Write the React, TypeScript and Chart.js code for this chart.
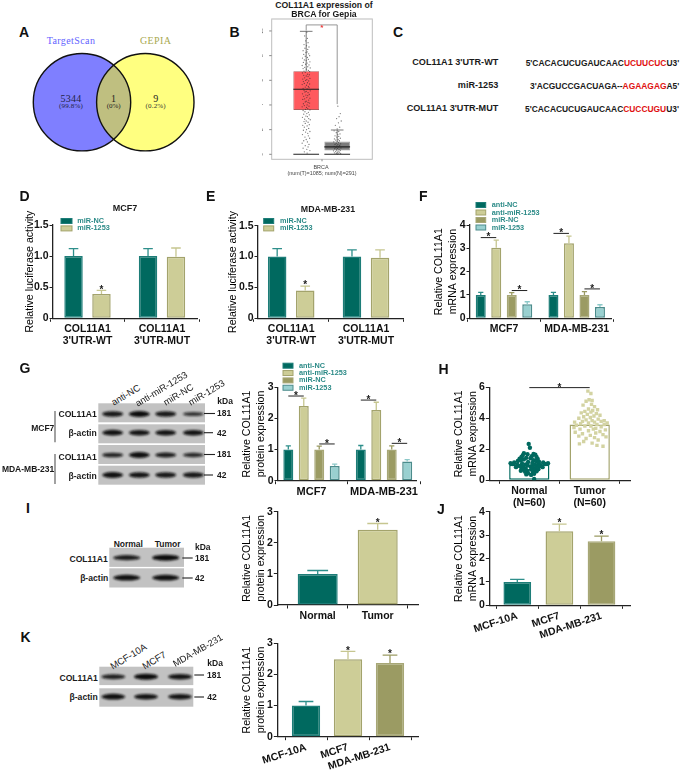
import React, { useEffect, useRef } from "react";
import { Chart, registerables } from "chart.js";

Chart.register(...registerables);

const FONT = "'Liberation Sans', Arial, sans-serif";
const TEAL = { bg: "#00695f", border: "#1d7d78", err: "#2e8f8b" };
const TAN = { bg: "#cdcd97", border: "#a3a36c", err: "#c6c690" };
const OLIVE = { bg: "#9b9b63", border: "#a7a776", err: "#9b9b63" };
const AQUA = { bg: "#99d0d0", border: "#4c8c8c", err: "#8cc8c8" };

// ---------- Data ----------
const utrLabels = [["COL11A1", "3'UTR-WT"], ["COL11A1", "3'UTR-MUT"]];
const dNC = [1.0, 1.0];
const dNCErr = [1.12, 1.12];
const dMiR = [0.39, 0.99];
const dMiRErr = [0.45, 1.13];
const eNC = [1.0, 1.0];
const eNCErr = [1.13, 1.11];
const eMiR = [0.45, 0.98];
const eMiRErr = [0.52, 1.11];

const cellLabels = ["MCF7", "MDA-MB-231"];
const fAntiNC = [1.0, 1.0];
const fAntiNCErr = [1.11, 1.11];
const fAntiMiR = [3.02, 3.22];
const fAntiMiRErr = [3.35, 3.52];
const fMiRNC = [1.0, 1.0];
const fMiRNCErr = [1.1, 1.14];
const fMiR = [0.6, 0.48];
const fMiRErr = [0.71, 0.58];

const gAntiNC = [1.0, 1.0];
const gAntiNCErr = [1.12, 1.13];
const gAntiMiR = [2.4, 2.27];
const gAntiMiRErr = [2.65, 2.52];
const gMiRNC = [1.0, 1.0];
const gMiRNCErr = [1.11, 1.12];
const gMiR = [0.47, 0.62];
const gMiRErr = [0.53, 0.68];

const hLabels = [["Normal", "(N=60)"], ["Tumor", "(N=60)"]];
const hMeans = [1.0, 3.6];
const hNormalY = [2.35,2.1,1.75,1.7,1.68,1.65,1.6,1.55,1.5,1.5,1.45,1.42,1.4,1.38,1.35,1.3,1.3,1.25,1.25,1.2,1.18,1.15,1.15,1.12,1.1,1.1,1.08,1.08,1.05,1.05,1.02,1.0,1.0,0.98,0.95,0.95,0.92,0.9,0.9,0.88,0.85,0.85,0.82,0.8,0.78,0.75,0.72,0.7,0.7,0.65,0.62,0.6,0.58,0.55,0.5,0.45,0.42,0.38,0.35,0.08];
const hNormalX = [-.01,.01,-.09,.07,-.03,.1,-.11,.04,-.13,.12,-.05,.02,-.16,.14,-.09,.07,-.14,.11,-.19,.16,-.02,-.25,.23,.05,-.31,.31,-.12,.15,-.27,.26,-.06,.09,-.2,.19,-.03,.13,-.16,.17,.02,-.1,.22,-.22,.06,-.13,.11,-.06,.15,-.1,.03,.09,-.14,-.03,.12,-.07,.06,-.02,.08,-.05,.03,.08];
const hTumorY = [5.75,5.6,5.2,5.15,5.1,4.9,4.85,4.75,4.6,4.55,4.5,4.45,4.4,4.35,4.3,4.25,4.2,4.15,4.1,4.05,4.0,3.95,3.9,3.85,3.85,3.8,3.8,3.75,3.75,3.7,3.7,3.65,3.6,3.6,3.55,3.5,3.5,3.45,3.4,3.35,3.3,3.3,3.25,3.2,3.15,3.1,3.05,3.0,2.95,2.9,2.85,2.8,2.75,2.7,2.6,2.5,2.4,2.35,2.25,2.2];
const hTumorX = [-.03,.02,-.01,.04,-.06,.03,-.11,.08,-.02,.13,.05,-.08,.02,-.14,.11,-.04,.17,.07,-.1,.01,-.18,.14,-.06,.04,.24,-.12,.19,-.25,.08,-.02,.29,-.15,.12,.24,-.22,.02,-.08,.19,-.26,.1,-.16,.06,.26,-.02,.17,-.24,.1,-.12,.22,.01,-.18,.27,.08,-.06,.14,-.1,.04,-.17,.12,.22];

const iLabels = ["Normal", "Tumor"];
const iValues = [1.0, 2.42];
const iErr = [1.11, 2.62];

const lineLabels = ["MCF-10A", "MCF7", "MDA-MB-231"];
const jValues = [1.0, 3.16, 2.74];
const jErr = [1.11, 3.47, 2.96];
const kValues = [1.0, 2.49, 2.37];
const kErr = [1.13, 2.74, 2.62];

const bGroups = ["Tumor", "Normal"];
const bBoxes = [[3.6, 6.73], [0.3, 1.03]];
const bMedians = [5.27, 0.6];
const bWhiskerTop = [9.97, 1.97];
const bTumorDots = [[.02,9.9],[-.05,9.6],[.04,9.4],[-.02,9.2],[.06,9.05],[-.07,8.9],[.01,8.8],[.09,8.7],[-.04,8.6],[.05,8.5],[-.1,8.4],[.03,8.3],[-.01,8.25],[.08,8.15],[-.08,8.1],[.11,8.0],[-.03,7.95],[.04,7.85],[-.12,7.8],[.07,7.7],[-.06,7.65],[.0,7.6],[.12,7.5],[-.09,7.45],[.03,7.4],[-.02,7.3],[.09,7.25],[-.13,7.2],[.05,7.1],[-.05,7.05],[.13,7.0],[-.1,6.95],[.01,6.9],[.07,6.8],[-.07,6.75],[.11,6.7],[-.03,6.65],[-.12,6.6],[.04,6.5],[.1,6.45],[-.08,6.4],[.0,6.35],[.06,6.3],[-.05,6.2],[.12,6.15],[-.11,6.1],[.02,6.05],[-.02,6.0],[.08,5.95],[-.09,5.9],[.04,5.8],[-.06,5.75],[.11,5.7],[-.13,5.65],[.01,5.6],[.07,5.5],[-.03,5.45],[.09,5.4],[-.1,5.35],[.03,5.3],[-.07,5.2],[.13,5.15],[.0,5.1],[-.04,5.05],[.06,5.0],[-.12,4.9],[.1,4.85],[-.01,4.8],[.05,4.75],[-.08,4.7],[.02,4.6],[.12,4.55],[-.05,4.5],[-.11,4.45],[.08,4.4],[.0,4.3],[-.03,4.25],[.06,4.2],[.11,4.15],[-.09,4.1],[.03,4.0],[-.06,3.95],[.09,3.9],[-.13,3.85],[.01,3.8],[.05,3.7],[-.02,3.65],[.12,3.6],[-.1,3.55],[-.04,3.45],[.07,3.4],[.02,3.3],[-.08,3.25],[.1,3.2],[-.01,3.1],[.04,3.05],[-.12,3.0],[.08,2.9],[-.05,2.85],[.13,2.8],[.0,2.7],[-.07,2.65],[.06,2.6],[-.03,2.5],[.1,2.4],[-.11,2.35],[.03,2.3],[-.06,2.2],[.08,2.1],[.01,2.0],[-.09,1.95],[.12,1.85],[-.02,1.8],[.05,1.7],[-.12,1.6],[.07,1.5],[-.04,1.4],[.11,1.3],[.0,1.2],[-.08,1.1],[.04,1.0],[-.13,.9],[.09,.8],[-.03,.7],[.06,.6],[-.1,.5],[.02,.4],[.12,.3],[-.06,.2],[.03,.1]];
const bNormalDots = [[.02,3.9],[.1,3.3],[.06,3.05],[-.02,2.9],[.13,2.7],[.04,2.55],[-.06,2.35],[.08,2.2],[.0,2.05],[-.1,1.9],[.05,1.85],[-.03,1.75],[.09,1.65],[.02,1.6],[-.07,1.5],[.05,1.45],[-.01,1.4],[.1,1.3],[-.09,1.25],[.03,1.2],[-.05,1.15],[.07,1.1],[.0,1.05],[-.11,1.0],[.04,.95],[-.03,.9],[.11,.85],[-.07,.8],[.02,.78],[.08,.72],[-.01,.68],[-.1,.65],[.05,.6],[-.04,.55],[.12,.52],[.01,.48],[-.08,.45],[.06,.4],[-.02,.35],[.1,.32],[-.12,.28],[.03,.25],[-.05,.22],[.08,.18],[.0,.15],[-.09,.12],[.05,.1],[-.03,.07],[.11,.05],[.01,.03]];

const blotG = [[.85, 1, .85, .55], [.92, .9, .9, .9], [.7, .95, .8, .65], [.95, .9, .85, .85]];
const blotI = [[.8, 1], [.95, .95]];
const blotK = [[.75, 1, .9], [.95, .9, .9]];

// ---------- Chart helpers ----------
type Box = { left: number; right: number; top: number; bottom: number };
type Panel = {
  plot: Box; titleX: number; yMax: number; yStep: number; title: string[];
  labels: any[]; centers: [number, number]; datasets: any[]; rotate?: number;
  legend?: { x: number; y: number; dy: number; w: number; textX: number };
  stars?: number[][]; brackets?: number[][]; font?: number; hiddenX?: boolean;
};

function series(label: string, data: number[], errTop: number[] | null, st: any, cat: number, bar: number) {
  return {
    type: "bar", label, data, errTop,
    backgroundColor: Array.isArray(st) ? st.map((s: any) => s.bg) : st.bg,
    borderColor: Array.isArray(st) ? st.map((s: any) => s.border) : st.border,
    errColor: Array.isArray(st) ? st.map((s: any) => s.err) : st.err,
    legendBg: Array.isArray(st) ? st[0].bg : st.bg,
    legendBorder: Array.isArray(st) ? st[0].border : st.border,
    borderWidth: 1.5, borderSkipped: false, categoryPercentage: cat, barPercentage: bar, order: 2,
  };
}

function placeX(chart: any, c0: number, c1: number, n: number) {
  const w = (c1 - c0) / (n - 1);
  const start = c0 - w / 2;
  for (const id of Object.keys(chart.scales)) {
    const s = chart.scales[id];
    if (s.isHorizontal()) {
      s._startPixel = start;
      s._endPixel = start + w * n;
      s._length = w * n;
    }
  }
}

function canvasBox(p: Panel) {
  const lh = 14;
  const left = Math.round(p.titleX - lh / 2);
  const top = Math.round(p.plot.top - 40);
  const right = Math.round(p.plot.right + 6);
  const bottom = Math.round(p.plot.bottom + 46);
  return { left, top, width: right - left, height: bottom - top };
}

function buildPanel(canvas: HTMLCanvasElement, p: Panel) {
  const cb = canvasBox(p);
  canvas.width = cb.width;
  canvas.height = cb.height;
  const yw = p.plot.left - cb.left;
  const xh = cb.top + cb.height - p.plot.bottom;
  const size = p.font || 10.5;
  const decor = {
    id: "decor",
    afterLayout(chart: any) {
      placeX(chart, p.centers[0] - cb.left, p.centers[1] - cb.left, p.labels.length);
    },
    afterDatasetsDraw(chart: any) {
      const ctx = chart.ctx;
      const y = chart.scales.y;
      const star = (cx: number, cy: number) => {
        ctx.fillStyle = "#222";
        ctx.font = `bold 10px ${FONT}`;
        ctx.textAlign = "center";
        ctx.textBaseline = "alphabetic";
        ctx.fillText("*", cx, cy + 5.9);
      };
      chart.data.datasets.forEach((ds: any, i: number) => {
        if (!ds.errTop) return;
        chart.getDatasetMeta(i).data.forEach((bar: any, j: number) => {
          const top = y.getPixelForValue(ds.errTop[j]);
          const base = y.getPixelForValue(ds.data[j]);
          const col = Array.isArray(ds.errColor) ? ds.errColor[j] : ds.errColor;
          const hw = bar.width * 0.26;
          ctx.strokeStyle = col;
          ctx.lineWidth = 1.3;
          ctx.beginPath();
          ctx.moveTo(bar.x, base);
          ctx.lineTo(bar.x, top);
          ctx.moveTo(bar.x - hw, top);
          ctx.lineTo(bar.x + hw, top);
          ctx.stroke();
        });
      });
      (p.stars || []).forEach(([ds, cat]) => {
        const d = chart.data.datasets[ds];
        const bar: any = chart.getDatasetMeta(ds).data[cat];
        star(bar.x, y.getPixelForValue(d.errTop[cat]) - 3.7);
      });
      (p.brackets || []).forEach(([da, ca, db, cb2, v]) => {
        const a: any = chart.getDatasetMeta(da).data[ca];
        const b: any = chart.getDatasetMeta(db).data[cb2];
        const py = y.getPixelForValue(v);
        ctx.strokeStyle = "#222";
        ctx.lineWidth = 1;
        ctx.beginPath();
        ctx.moveTo(a.x, py);
        ctx.lineTo(b.x, py);
        ctx.stroke();
        star((a.x + b.x) / 2, py - 3);
      });
      if (p.legend) {
        const lg = p.legend;
        chart.data.datasets.forEach((ds: any, i: number) => {
          const yy = lg.y - cb.top + i * lg.dy;
          const xx = lg.x - cb.left;
          ctx.fillStyle = ds.legendBg;
          ctx.strokeStyle = ds.legendBorder;
          ctx.lineWidth = 1;
          ctx.fillRect(xx, yy - 2.5, lg.w, 5);
          ctx.strokeRect(xx, yy - 2.5, lg.w, 5);
          ctx.fillStyle = "#2b8a87";
          ctx.font = `bold 7.3px ${FONT}`;
          ctx.textAlign = "left";
          ctx.textBaseline = "middle";
          ctx.fillText(ds.label, lg.textX - cb.left, yy);
        });
      }
    },
  };
  const scales: any = {
    x: {
      type: "category", offset: true,
      afterFit: (s: any) => { s.height = xh; },
      grid: { display: true, drawOnChartArea: false, drawTicks: true, tickLength: 3.5, color: "#222", tickWidth: 1 },
      border: { color: "#222", width: 1.3 },
      ticks: {
        color: "#111", autoSkip: false, padding: 1,
        minRotation: p.rotate || 0, maxRotation: p.rotate || 0,
        font: { family: FONT, size, weight: "bold", lineHeight: 1.17 },
      },
    },
    y: {
      type: "linear", min: 0, max: p.yMax,
      afterFit: (s: any) => { s.width = yw; },
      grid: { display: true, drawOnChartArea: false, drawTicks: true, tickLength: 3.5, color: "#222", tickWidth: 1 },
      border: { color: "#222", width: 1.3 },
      ticks: { stepSize: p.yStep, color: "#111", padding: 1, font: { family: FONT, size: 10.5, weight: "bold" } },
      title: { display: true, text: p.title, color: "#000", padding: 0, font: { family: FONT, size: 10.6, lineHeight: 14 / 10.6 } },
    },
  };
  if (p.hiddenX) scales.xs = { type: "linear", display: false, offset: false, min: -0.5, max: 1.5, position: "bottom" };
  return new Chart(canvas, {
    type: "bar",
    data: { labels: p.labels, datasets: p.datasets },
    options: {
      responsive: false, animation: false,
      layout: { autoPadding: false, padding: { left: 0, top: p.plot.top - cb.top, right: cb.left + cb.width - p.plot.right, bottom: 0 } },
      plugins: { legend: { display: false }, tooltip: { enabled: false } },
      scales,
    } as any,
    plugins: [decor],
  } as any);
}

const Legend2 = (x: number, textX: number, w: number) => ({ x, y: 221, dy: 7.4, w, textX });

const panels: Panel[] = [
  {
    plot: { left: 53, right: 197, top: 225, bottom: 318.3 }, titleX: 30, yMax: 1.5, yStep: 0.5, title: ["Relative luciferase activity"],
    labels: utrLabels, centers: [87.5, 162],
    datasets: [series("miR-NC", dNC, dNCErr, TEAL, 0.75, 0.66), series("miR-1253", dMiR, dMiRErr, TAN, 0.75, 0.66)],
    legend: Legend2(61, 77.3, 11), stars: [[1, 0]],
  },
  {
    plot: { left: 258, right: 403, top: 225.7, bottom: 318.3 }, titleX: 233, yMax: 1.5, yStep: 0.5, title: ["Relative luciferase activity"],
    labels: utrLabels, centers: [291.2, 366],
    datasets: [series("miR-NC", eNC, eNCErr, TEAL, 0.75, 0.66), series("miR-1253", eMiR, eMiRErr, TAN, 0.75, 0.66)],
    legend: Legend2(263.7, 280, 10), stars: [[1, 0]],
  },
  {
    plot: { left: 470, right: 611, top: 225, bottom: 318.3 }, titleX: 439, yMax: 4, yStep: 1, title: ["Relative COL11A1", "mRNA expression"],
    labels: cellLabels, centers: [504, 576.7],
    datasets: [
      series("anti-NC", fAntiNC, fAntiNCErr, TEAL, 0.853, 0.645), series("anti-miR-1253", fAntiMiR, fAntiMiRErr, TAN, 0.853, 0.645),
      series("miR-NC", fMiRNC, fMiRNCErr, OLIVE, 0.853, 0.645), series("miR-1253", fMiR, fMiRErr, AQUA, 0.853, 0.645),
    ],
    legend: { x: 476, y: 205, dy: 7.5, w: 9.7, textX: 491.7 },
    brackets: [[0, 0, 1, 0, 3.46], [2, 0, 3, 0, 1.19], [0, 1, 1, 1, 3.64], [2, 1, 3, 1, 1.26]],
  },
  {
    plot: { left: 278, right: 416.7, top: 387.3, bottom: 480.7 }, titleX: 247, yMax: 3, yStep: 1, title: ["Relative COL11A1", "protein expression"],
    labels: cellLabels, centers: [311.5, 384], font: 11,
    datasets: [
      series("anti-NC", gAntiNC, gAntiNCErr, TEAL, 0.853, 0.645), series("anti-miR-1253", gAntiMiR, gAntiMiRErr, TAN, 0.853, 0.645),
      series("miR-NC", gMiRNC, gMiRNCErr, OLIVE, 0.853, 0.645), series("miR-1253", gMiR, gMiRErr, AQUA, 0.853, 0.645),
    ],
    legend: { x: 283, y: 365.7, dy: 7.35, w: 10, textX: 299 },
    brackets: [[0, 0, 1, 0, 2.72], [2, 0, 3, 0, 1.18], [0, 1, 1, 1, 2.59], [2, 1, 3, 1, 1.2]],
  },
  {
    plot: { left: 489.3, right: 630, top: 387.3, bottom: 480.3 }, titleX: 459, yMax: 6, yStep: 2, title: ["Relative COL11A1", "mRNA expression"],
    labels: hLabels, centers: [529.3, 589.7], hiddenX: true,
    datasets: [
      { type: "scatter", xAxisID: "xs", order: 0, pointStyle: "circle", pointRadius: 2.2, pointBackgroundColor: TEAL.bg, pointBorderWidth: 0, data: hNormalX.map((x, i) => ({ x, y: hNormalY[i] })) },
      { type: "scatter", xAxisID: "xs", order: 0, pointStyle: "rect", pointRadius: 2.4, pointBackgroundColor: "#d3d3a2", pointBorderWidth: 0, data: hTumorX.map((x, i) => ({ x: 1 + x, y: hTumorY[i] })) },
      { ...series("mean", hMeans, null, [{ bg: "#ffffff", border: TEAL.bg, err: TEAL.err }, { bg: "#ffffff", border: TAN.border, err: TAN.err }], 1, 0.667), grouped: false },
    ],
    brackets: [[2, 0, 2, 1, 5.98]],
  },
  {
    plot: { left: 277.3, right: 418.3, top: 511.7, bottom: 605 }, titleX: 247, yMax: 3, yStep: 1, title: ["Relative COL11A1", "protein expression"],
    labels: iLabels, centers: [317.7, 377.7], font: 10.5,
    datasets: [series("level", iValues, iErr, [TEAL, TAN], 0.667, 1)],
    stars: [[0, 1]],
  },
  {
    plot: { left: 489.3, right: 630, top: 511.7, bottom: 605.3 }, titleX: 459, yMax: 4, yStep: 1, title: ["Relative COL11A1", "mRNA expression"],
    labels: lineLabels, centers: [517.3, 601.5], rotate: 18,
    datasets: [series("level", jValues, jErr, [TEAL, TAN, OLIVE], 0.658, 1)],
    stars: [[0, 1], [0, 2]],
  },
  {
    plot: { left: 277.3, right: 418.3, top: 643.3, bottom: 736.7 }, titleX: 247, yMax: 3, yStep: 1, title: ["Relative COL11A1", "protein expression"],
    labels: lineLabels, centers: [306, 390], rotate: 18,
    datasets: [series("level", kValues, kErr, [TEAL, TAN, OLIVE], 0.674, 1)],
    stars: [[0, 1], [0, 2]],
  },
];

const bBox = { left: 262, top: 14, width: 116, height: 150 };
const bPlot: Box = { left: 271.7, right: 372.3, top: 19, bottom: 159.3 };

function buildBoxplot(canvas: HTMLCanvasElement) {
  canvas.width = bBox.width;
  canvas.height = bBox.height;
  const decor = {
    id: "decorB",
    afterLayout(chart: any) {
      placeX(chart, 306.2 - bBox.left, 337.2 - bBox.left, 2);
    },
    beforeDatasetsDraw(chart: any) {
      const { ctx, chartArea: a } = chart;
      ctx.strokeStyle = "#bdbdbd";
      ctx.lineWidth = 1;
      ctx.strokeRect(a.left, a.top, a.right - a.left, a.bottom - a.top);
      ctx.fillStyle = "#dcdcdc";
      ctx.fillRect(a.left, a.top - 1, a.right - a.left, 1.4);
      const y = chart.scales.y;
      ctx.fillStyle = "#555";
      ctx.font = `5.2px ${FONT}`;
      y.ticks.forEach((t: any) => {
        const py = y.getPixelForValue(t.value);
        ctx.strokeStyle = "#888";
        ctx.beginPath();
        ctx.moveTo(a.left, py);
        ctx.lineTo(a.left - 2.5, py);
        ctx.stroke();
        ctx.save();
        ctx.translate(a.left - 10, py);
        ctx.rotate(-Math.PI / 2);
        ctx.textAlign = "center";
        ctx.textBaseline = "middle";
        ctx.fillText(String(t.value), 0, 0);
        ctx.restore();
      });
      ctx.beginPath();
      ctx.strokeStyle = "#888";
      const mid = (a.left + a.right) / 2;
      ctx.moveTo(mid, a.bottom);
      ctx.lineTo(mid, a.bottom + 2);
      ctx.stroke();
    },
    afterDatasetsDraw(chart: any) {
      const { ctx } = chart;
      const y = chart.scales.y;
      const boxes = chart.getDatasetMeta(2).data;
      boxes.forEach((bar: any, i: number) => {
        const hw = bar.width / 2;
        const zero = y.getPixelForValue(0);
        ctx.strokeStyle = "#555";
        ctx.lineWidth = 0.8;
        ctx.beginPath();
        ctx.moveTo(bar.x, y.getPixelForValue(bWhiskerTop[i]));
        ctx.lineTo(bar.x, y.getPixelForValue(bBoxes[i][1]));
        ctx.moveTo(bar.x - 6.3, y.getPixelForValue(bWhiskerTop[i]));
        ctx.lineTo(bar.x + 6.3, y.getPixelForValue(bWhiskerTop[i]));
        ctx.stroke();
        ctx.strokeStyle = "#222";
        ctx.lineWidth = 1.1;
        ctx.beginPath();
        ctx.moveTo(bar.x - hw, y.getPixelForValue(bMedians[i]));
        ctx.lineTo(bar.x + hw, y.getPixelForValue(bMedians[i]));
        ctx.moveTo(bar.x - hw, zero);
        ctx.lineTo(bar.x + hw, zero);
        ctx.stroke();
      });
      const [a, b] = boxes as any[];
      const top = y.getPixelForValue(10.49);
      ctx.strokeStyle = "#8a8a8a";
      ctx.lineWidth = 0.9;
      ctx.beginPath();
      ctx.moveTo(a.x, y.getPixelForValue(10.03));
      ctx.lineTo(a.x, top);
      ctx.lineTo(b.x, top);
      ctx.lineTo(b.x, y.getPixelForValue(4.07));
      ctx.stroke();
      ctx.fillStyle = "#ee3333";
      ctx.font = `bold 8px ${FONT}`;
      ctx.textAlign = "center";
      ctx.textBaseline = "alphabetic";
      ctx.fillText("*", (a.x + b.x) / 2, top + 4.7);
    },
  };
  const dot = (pts: number[][], offset: number) => pts.map(([x, y]) => ({ x: offset + x, y }));
  return new Chart(canvas, {
    type: "bar",
    data: {
      labels: bGroups,
      datasets: [
        { type: "scatter", xAxisID: "xs", order: 0, pointRadius: 0.65, pointBorderWidth: 0, pointBackgroundColor: "rgba(40,40,40,0.62)", data: dot(bTumorDots, 0) },
        { type: "scatter", xAxisID: "xs", order: 0, pointRadius: 0.65, pointBorderWidth: 0, pointBackgroundColor: "rgba(40,40,40,0.62)", data: dot(bNormalDots, 1) },
        { type: "bar", order: 2, grouped: false, data: bBoxes, backgroundColor: ["#ff5a5e", "#7b7b7b"], borderColor: ["#b05a5a", "#a0a0a0"], borderWidth: 0.8, borderSkipped: false, categoryPercentage: 1, barPercentage: 0.83 },
      ],
    },
    options: {
      responsive: false, animation: false,
      layout: { autoPadding: false, padding: { left: 0, top: bPlot.top - bBox.top, right: bBox.left + bBox.width - bPlot.right, bottom: 0 } },
      plugins: { legend: { display: false }, tooltip: { enabled: false } },
      scales: {
        x: { type: "category", offset: true, grid: { display: false }, border: { display: false }, ticks: { display: false }, afterFit: (s: any) => { s.height = bBox.top + bBox.height - bPlot.bottom; } },
        xs: { type: "linear", display: false, offset: false, min: -0.5, max: 1.5, position: "bottom" },
        y: { type: "linear", min: -0.405, max: 10.97, grid: { display: false }, border: { display: false }, ticks: { display: false, stepSize: 2, includeBounds: false }, afterFit: (s: any) => { s.width = bPlot.left - bBox.left; } },
      },
    } as any,
    plugins: [decor],
  } as any);
}

// ---------- Static parts ----------
function T({ x, y, a = "l", s = 8.5, b = false, c = "#1a1a1a", r = 0, f = FONT, ls = 0, children }: any) {
  const tx = a === "c" ? "-50%" : a === "r" ? "-100%" : "0";
  return (
    <div style={{
      position: "absolute", left: x, top: y, whiteSpace: "nowrap", lineHeight: 1, fontFamily: f, fontSize: s,
      fontWeight: b ? "bold" : "normal", color: c, letterSpacing: ls,
      transform: `translate(${tx},-50%)` + (r ? ` rotate(${r}deg)` : ""), transformOrigin: "0 50%",
    }}>{children}</div>
  );
}

function Blot({ x, w, rows, lanes, bandY, rowTops, rowH, rx = 10.5 }: any) {
  return (
    <g>
      {rows.map((row: number[], i: number) => (
        <g key={i}>
          <rect x={x} y={rowTops[i]} width={w} height={rowH} fill="#c2c2c2" />
          {row.map((v: number, j: number) => (
            <ellipse key={j} cx={lanes[j]} cy={bandY[i]} rx={rx} ry={0.9 + 2.1 * v} fill="#0d0d0d" opacity={0.55 + 0.45 * v} filter="url(#blur)" />
          ))}
        </g>
      ))}
    </g>
  );
}

const L = ({ x1, y1, x2, y2, w = 1.1, c = "#222" }: any) => <line x1={x1} y1={y1} x2={x2} y2={y2} stroke={c} strokeWidth={w} />;

const SEQ = 8.42;
const HEAD = 9.1;
const serif = "'Liberation Serif', serif";

export default function App() {
  const refs = useRef<(HTMLCanvasElement | null)[]>([]);
  const bRef = useRef<HTMLCanvasElement | null>(null);
  useEffect(() => {
    const charts = panels.map((p, i) => buildPanel(refs.current[i] as HTMLCanvasElement, p));
    charts.push(buildBoxplot(bRef.current as HTMLCanvasElement));
    return () => charts.forEach((c) => c.destroy());
  }, []);
  return (
    <div style={{ position: "absolute", left: 0, top: 0, width: 685, height: 773, overflow: "hidden", background: "#fff", fontFamily: FONT }}>
      <svg width={685} height={773} style={{ position: "absolute", left: 0, top: 0 }}>
        <defs>
          <filter id="blur" x="-30%" y="-100%" width="160%" height="300%"><feGaussianBlur stdDeviation="0.9" /></filter>
          <clipPath id="c1"><circle cx={82} cy={102.2} r={48.7} /></clipPath>
        </defs>
        <circle cx={82} cy={102.2} r={48.7} fill="#7f7fff" />
        <circle cx={145.3} cy={102.2} r={48.7} fill="#ffff80" />
        <circle cx={145.3} cy={102.2} r={48.7} fill="#bfbf80" clipPath="url(#c1)" />
        <circle cx={82} cy={102.2} r={48.7} fill="none" stroke="#111" strokeWidth={1.4} />
        <circle cx={145.3} cy={102.2} r={48.7} fill="none" stroke="#111" strokeWidth={1.4} />

        <Blot x={98.3} w={106.7} rows={blotG} lanes={[112.7, 139.3, 165.7, 193.3]} bandY={[414, 432.7, 455, 475]} rowTops={[403.3, 424.3, 445, 465.7]} rowH={19} />
        <Blot x={109.3} w={74.7} rows={blotI} lanes={[126.7, 165.7]} bandY={[557.7, 577.7]} rowTops={[547.7, 568.3]} rowH={19.2} rx={13.5} />
        <Blot x={99.3} w={94} rows={blotK} lanes={[113.3, 146, 180]} bandY={[676.7, 696.7]} rowTops={[666.7, 688.3]} rowH={18.4} rx={12} />

        <L x1={55} y1={411} x2={55} y2={442.3} c="#555" />
        <L x1={55} y1={454} x2={55} y2={484} c="#555" />
        <L x1={204} y1={413.5} x2={215} y2={413.5} />
        <L x1={204} y1={432.7} x2={213} y2={432.7} />
        <L x1={204} y1={454.5} x2={215} y2={454.5} />
        <L x1={204} y1={475} x2={213} y2={475} />
        <L x1={182.3} y1={558} x2={192.7} y2={558} />
        <L x1={182.3} y1={578} x2={192.7} y2={578} />
        <L x1={194.3} y1={675} x2={204} y2={675} />
        <L x1={194.3} y1={697} x2={204} y2={697} />
      </svg>

      {panels.map((p, i) => {
        const cb = canvasBox(p);
        return <canvas key={i} ref={(el) => { refs.current[i] = el; }} style={{ position: "absolute", left: cb.left, top: cb.top, width: cb.width, height: cb.height }} />;
      })}
      <canvas ref={bRef} style={{ position: "absolute", left: bBox.left, top: bBox.top, width: bBox.width, height: bBox.height }} />

      {[["A", 19, 32], ["B", 229.5, 32], ["C", 393, 32], ["D", 19.5, 196], ["E", 206, 196], ["F", 419, 196], ["G", 19.5, 367.7], ["H", 438.5, 369], ["I", 26, 508], ["J", 437, 509], ["K", 20.5, 636.7]].map(([l, x, y]: any) => (
        <T key={l} x={x} y={y} s={14} b c="#111">{l}</T>
      ))}

      <T x={71} y={41} a="c" s={10} f={serif} ls={0.4} c="#6464ff">TargetScan</T>
      <T x={155.7} y={41} a="c" s={10} f={serif} ls={0.4} c="#a9a950">GEPIA</T>
      <T x={71} y={98.7} a="c" s={10} f={serif} ls={0.3} c="#222244">5344</T>
      <T x={71} y={106.3} a="c" s={7} f={serif} ls={0.2} c="#222244">(99.8%)</T>
      <T x={113.5} y={98.7} a="c" s={10} f={serif} c="#222">1</T>
      <T x={113.7} y={106.3} a="c" s={7} f={serif} c="#222">(0%)</T>
      <T x={155.7} y={98.7} a="c" s={10} f={serif} c="#222">9</T>
      <T x={155.7} y={106.3} a="c" s={7} f={serif} ls={0.2} c="#333">(0.2%)</T>

      <T x={324} y={4.5} a="c" s={8.7} b>COL11A1 expression of</T>
      <T x={324} y={14.3} a="c" s={8.7} b>BRCA for Gepia</T>
      <T x={321} y={168} a="c" s={5.4} c="#444">BRCA</T>
      <T x={322} y={174} a="c" s={5.4} c="#444">(num(T)=1085; num(N)=291)</T>

      <T x={498.3} y={62.7} a="r" s={HEAD} b>COL11A1 3'UTR-WT</T>
      <T x={498.3} y={86} a="r" s={HEAD} b>miR-1253</T>
      <T x={498.3} y={108.7} a="r" s={HEAD} b>COL11A1 3'UTR-MUT</T>
      <T x={525.7} y={62.7} s={SEQ} b>5'CACACUCUGAUCAAC<span style={{ color: "#e01010" }}>UCUUCUC</span>U3'</T>
      <T x={530} y={86} s={SEQ} b>3'ACGUCCGACUAGA--<span style={{ color: "#e01010" }}>AGAAGAG</span>A5'</T>
      <T x={525} y={108.7} s={SEQ} b>5'CACACUCUGAUCAAC<span style={{ color: "#e01010" }}>CUCCUGU</span>U3'</T>

      <T x={125} y={208} a="c" s={9} b>MCF7</T>
      <T x={328} y={209} a="c" s={8.8} b>MDA-MB-231</T>

      <T x={111.7} y={403} s={9.4} r={-31}>anti-NC</T>
      <T x={136} y={404} s={9.4} r={-31}>anti-miR-1253</T>
      <T x={164} y={403} s={9.4} r={-31}>miR-NC</T>
      <T x={189.3} y={403} s={9.4} r={-31}>miR-1253</T>
      <T x={217.3} y={401} s={8.5} b>kDa</T>
      <T x={96.7} y={414.3} a="r" s={8.6} b>COL11A1</T>
      <T x={96.7} y={433.3} a="r" s={8.6} b>β-actin</T>
      <T x={96.7} y={456.7} a="r" s={8.6} b>COL11A1</T>
      <T x={96.7} y={476} a="r" s={8.6} b>β-actin</T>
      <T x={54.3} y={428} a="r" s={8.5} b>MCF7</T>
      <T x={54.3} y={469.3} a="r" s={8.5} b>MDA-MB-231</T>
      <T x={217} y={413.3} s={8.5} b>181</T>
      <T x={217} y={432.7} s={8.5} b>42</T>
      <T x={217} y={454} s={8.5} b>181</T>
      <T x={217} y={475} s={8.5} b>42</T>

      <T x={128.3} y={543.7} a="c" s={8.5} b>Normal</T>
      <T x={167.7} y={543.7} a="c" s={8.5} b>Tumor</T>
      <T x={195} y={546.7} s={8.5} b>kDa</T>
      <T x={107.7} y={559} a="r" s={8.6} b>COL11A1</T>
      <T x={108.3} y={578} a="r" s={8.6} b>β-actin</T>
      <T x={195} y={557.7} s={8.5} b>181</T>
      <T x={195} y={578} s={8.5} b>42</T>

      <T x={110.7} y={667.3} s={9.5} r={-31}>MCF-10A</T>
      <T x={143.3} y={667} s={9.5} r={-31}>MCF7</T>
      <T x={174} y={665} s={9.2} r={-30}>MDA-MB-231</T>
      <T x={207.3} y={662.7} s={8.5} b>kDa</T>
      <T x={97.7} y={678.3} a="r" s={8.6} b>COL11A1</T>
      <T x={97.7} y={697.3} a="r" s={8.6} b>β-actin</T>
      <T x={207} y={675} s={8.5} b>181</T>
      <T x={207.3} y={697} s={8.5} b>42</T>
    </div>
  );
}
